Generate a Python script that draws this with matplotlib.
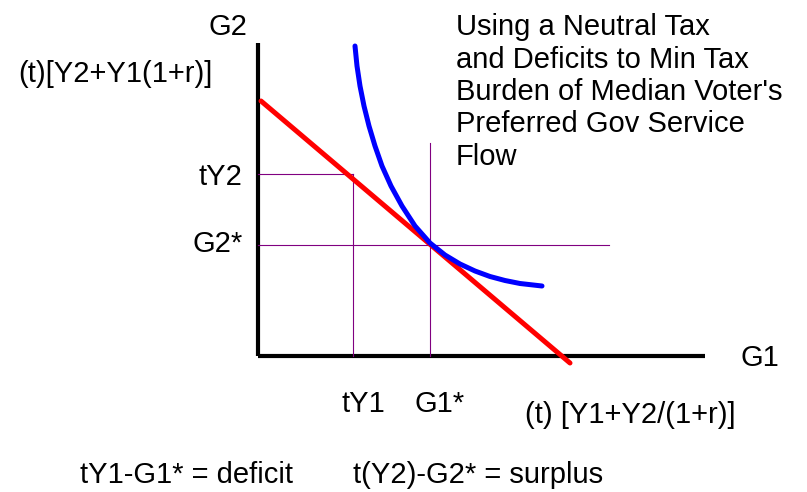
import matplotlib.pyplot as plt

plt.rcParams['font.family'] = ['Liberation Sans', 'DejaVu Sans']

# budget line (G1, G2) end points
budget_g1 = [3, 312]
budget_g2 = [255, -7]

# indifference curve
curve_g1 = [97, 99, 102, 106, 111, 117, 124, 133, 144, 157, 172, 187, 202, 217, 232, 247, 262, 284]
curve_g2 = [310, 290, 270, 250, 230, 210, 190, 170, 150, 130, 113, 101, 92, 85, 79.5, 75.5, 72.5, 70]

# guide lines
ty1, ty2 = 95, 182
g1_star, g2_star = 172, 111
g2_line_end = 351
g1_line_top = 213

title_lines = ["Using a Neutral Tax", "and Deficits to Min Tax",
               "Burden of Median Voter's", "Preferred Gov Service", "Flow"]

fig = plt.figure(figsize=(8.07, 4.92), dpi=100)
ax = fig.add_axes([0, 0, 1, 1])
ax.set_xlim(-258, 549)
ax.set_ylim(-136, 356)
ax.axis('off')

# axes
ax.plot([0, 0], [0, 313], color='black', lw=3, solid_capstyle='butt')
ax.plot([0, 447], [0, 0], color='black', lw=3, solid_capstyle='butt')

# purple guides
pc = '#800080'
ax.plot([0, ty1], [ty2, ty2], color=pc, lw=0.8)
ax.plot([ty1, ty1], [0, ty2], color=pc, lw=0.8)
ax.plot([0, g2_line_end], [g2_star, g2_star], color=pc, lw=0.8)
ax.plot([g1_star, g1_star], [0, g1_line_top], color=pc, lw=0.8)

# curves
ax.plot(budget_g1, budget_g2, color='#ff0000', lw=3.6, solid_capstyle='round')
ax.plot(curve_g1, curve_g2, color='#0000ff', lw=3.6, solid_capstyle='round',
        solid_joinstyle='round')

fs = 21
kw = dict(fontsize=fs, va='baseline')
ax.text(-11, 321, 'G2', ha='right', **kw)
ax.text(-240, 274, '(t)[Y2+Y1(1+r)]', ha='left', **kw)
ax.text(-16, 171, 'tY2', ha='right', **kw)
ax.text(-15, 104, 'G2*', ha='right', **kw)
ax.text(483, -10, 'G1', ha='left', **kw)
ax.text(105, -56, 'tY1', ha='center', **kw)
ax.text(182, -56, 'G1*', ha='center', **kw)
ax.text(267, -67, '(t) [Y1+Y2/(1+r)]', ha='left', **kw)
ax.text(-178, -127, 'tY1-G1* = deficit', ha='left', **kw)
ax.text(95, -127, 't(Y2)-G2* = surplus', ha='left', **kw)

for i, line in enumerate(title_lines):
    ax.text(198, 321 - i * 32.5, line, ha='left', **kw)

fig.savefig('out.png', dpi=100)
